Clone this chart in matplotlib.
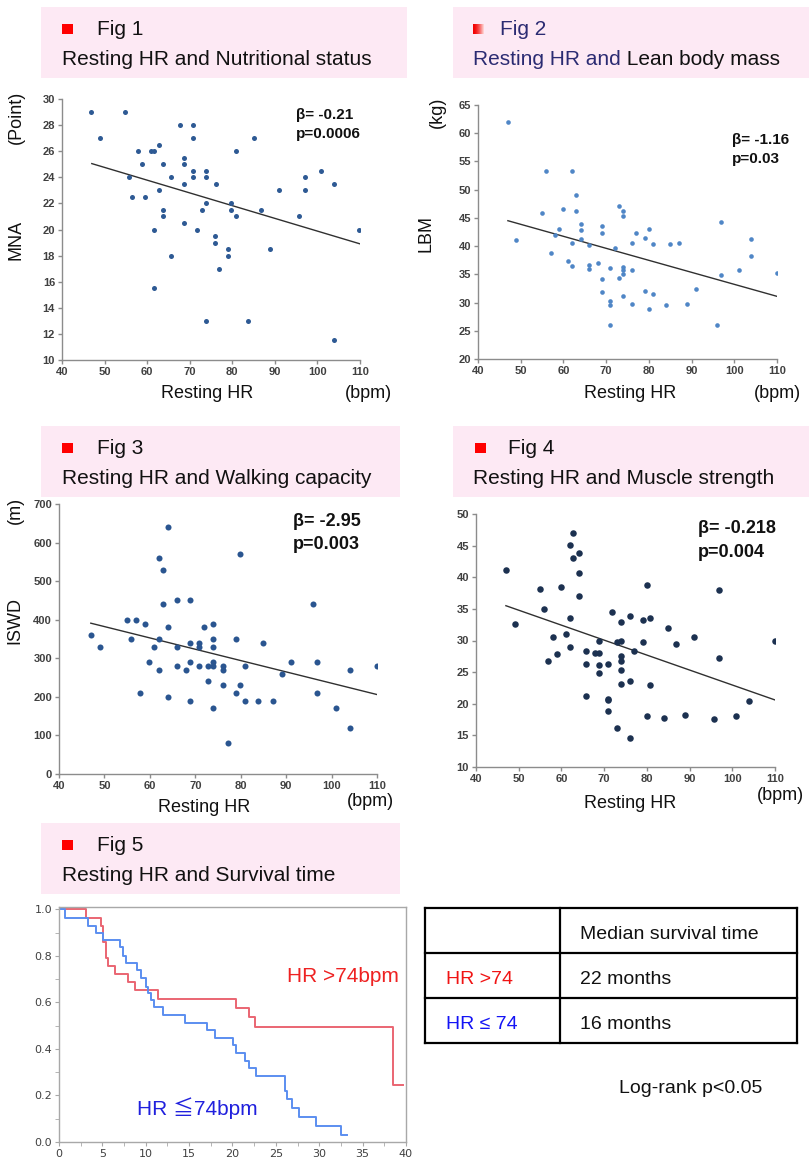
import numpy as np
import matplotlib.pyplot as plt
from matplotlib.patches import Rectangle

plt.rcParams['font.family'] = ['Liberation Sans', 'DejaVu Sans']

W, H = 809, 1165

# ---- Fig 1: resting HR vs MNA
hr1 = [46.7, 54.9, 48.9, 67.8, 70.8, 70.8, 85.1, 57.9, 60.8, 61.7, 62.7, 80.8, 68.7, 68.7,
       58.7, 63.8, 55.8, 65.6, 70.8, 70.8, 73.8, 73.8, 76.1, 68.7, 62.7, 97.0, 100.9, 91.0,
       97.0, 103.9, 56.5, 59.6, 73.8, 79.8, 79.8, 80.8, 72.8, 63.8, 63.8, 86.7, 95.7, 61.7,
       68.7, 71.7, 109.8, 75.9, 75.9, 79.0, 79.0, 65.6, 88.8, 76.8, 61.7, 73.8, 83.7, 103.9]
mna = [29.0, 29.0, 27.0, 28.0, 28.0, 27.0, 27.0, 26.0, 26.0, 26.0, 26.5, 26.0, 25.5, 25.0,
       25.0, 25.0, 24.0, 24.0, 24.0, 24.5, 24.5, 24.0, 23.5, 23.5, 23.0, 24.0, 24.5, 23.0,
       23.0, 23.5, 22.5, 22.5, 22.0, 22.0, 21.5, 21.0, 21.5, 21.5, 21.0, 21.5, 21.0, 20.0,
       20.5, 20.0, 20.0, 19.5, 19.0, 18.5, 18.0, 18.0, 18.5, 17.0, 15.5, 13.0, 13.0, 11.5]
fit1_x = [47, 110]
fit1_y = [25.05, 18.9]

# ---- Fig 2: resting HR vs lean body mass
hr2 = [47, 49, 55, 56, 57, 58, 59, 60, 61, 62, 62, 62, 63, 63, 64, 64, 64, 66, 66, 66,
       68, 69, 69, 69, 69, 71, 71, 71, 71, 72, 73, 73, 74, 74, 74, 74, 74, 74, 76, 76,
       76, 77, 79, 79, 80, 80, 81, 81, 84, 85, 87, 89, 91, 96, 97, 97, 101, 104, 104, 110]
lbm = [62.0, 41.0, 45.8, 53.3, 38.7, 42.0, 43.0, 46.5, 37.3, 53.3, 40.5, 36.5, 49.0, 46.2,
       44.0, 42.8, 41.2, 40.2, 36.7, 36.0, 37.0, 43.5, 42.3, 34.2, 31.8, 36.2, 30.2, 29.5,
       26.0, 39.7, 47.1, 34.4, 46.3, 45.3, 36.3, 35.8, 35.0, 31.1, 40.5, 35.8, 29.7, 42.3,
       41.5, 32.0, 43.0, 28.8, 40.3, 31.5, 29.5, 40.3, 40.5, 29.7, 32.4, 26.1, 44.2, 34.9,
       35.8, 41.2, 38.3, 35.3]
fit2_x = [47, 110]
fit2_y = [44.5, 31.1]

# ---- Fig 3: resting HR vs ISWD
hr3 = [47.0, 49.0, 54.9, 55.8, 56.9, 57.8, 58.9, 59.8, 60.9, 62.1, 62.1, 62.1, 62.9, 62.9,
       64.0, 64.0, 64.0, 66.0, 66.0, 66.0, 68.0, 68.9, 68.9, 68.9, 68.9, 70.8, 70.8, 70.8,
       72.0, 72.8, 72.8, 74.0, 74.0, 74.0, 74.0, 74.0, 74.0, 76.0, 76.0, 76.0, 77.1, 79.0,
       79.0, 79.9, 79.9, 81.0, 81.0, 83.8, 85.0, 87.0, 89.0, 91.0, 96.0, 96.9, 96.9, 101.0,
       104.0, 104.0, 110.0]
iswd = [360, 330, 400, 350, 400, 210, 390, 290, 330, 560, 350, 270, 530, 440,
        640, 380, 200, 450, 330, 280, 270, 450, 340, 290, 190, 340, 330, 280,
        380, 280, 240, 390, 350, 330, 290, 280, 170, 280, 270, 230, 80, 350,
        210, 570, 230, 280, 190, 190, 340, 190, 260, 290, 440, 290, 210, 170,
        270, 120, 280]
fit3_x = [47, 110]
fit3_y = [391, 206]

# ---- Fig 4: resting HR vs grip strength
hr4 = [47.0, 49.1, 55.0, 55.9, 56.8, 58.0, 58.9, 59.8, 61.0, 61.9, 61.9, 61.9, 62.8, 62.8,
       64.0, 64.0, 64.0, 65.8, 65.8, 65.8, 67.9, 68.9, 68.9, 68.9, 68.9, 70.9, 70.9, 70.9,
       70.9, 71.8, 73.0, 73.0, 73.9, 73.9, 73.9, 73.9, 73.9, 73.9, 76.0, 76.0, 76.0, 76.9,
       79.0, 79.0, 80.0, 80.0, 80.8, 80.8, 83.9, 85.0, 86.8, 88.9, 91.0, 95.8, 97.0, 97.0,
       100.9, 104.0, 110.0]
grip = [41.1, 32.6, 38.2, 35.0, 26.7, 30.6, 27.9, 38.4, 31.0, 45.1, 33.6, 29.0, 47.0, 43.1,
        43.9, 40.6, 37.0, 28.3, 26.3, 21.2, 28.1, 30.0, 28.1, 26.1, 24.9, 26.3, 20.8, 20.6,
        18.8, 34.5, 16.2, 29.8, 30.0, 33.0, 27.5, 26.7, 25.3, 23.2, 33.8, 23.6, 14.6, 28.3,
        33.2, 29.8, 38.8, 18.0, 33.6, 23.0, 17.8, 32.0, 29.5, 18.3, 30.5, 17.6, 38.0, 27.3,
        18.0, 20.4, 30.0]
fit4_x = [47, 110]
fit4_y = [35.5, 20.6]

# ---- Fig 5: Kaplan-Meier curves (months, survival)
red_t = [0, 3.08, 4.88, 5.08, 5.38, 5.65, 6.42, 7.96, 8.73, 11.42, 20.38, 21.92, 22.58, 38.46, 39.7]
red_s = [1.0, 0.964, 0.93, 0.86, 0.79, 0.755, 0.72, 0.689, 0.653, 0.616, 0.576, 0.536, 0.493, 0.243, 0.243]
blue_t = [0, 0.69, 3.35, 4.23, 5.08, 7.08, 7.38, 7.77, 9.04, 9.5, 10.08, 10.27, 10.65, 10.92,
          12.0, 14.5, 17.08, 17.96, 20.08, 20.38, 21.42, 21.92, 22.69, 26.04, 26.31, 26.88,
          27.65, 29.62, 32.46, 33.23]
blue_s = [1.0, 0.964, 0.93, 0.90, 0.867, 0.836, 0.80, 0.77, 0.739, 0.707, 0.667, 0.639, 0.61,
          0.58, 0.546, 0.513, 0.481, 0.449, 0.417, 0.381, 0.35, 0.317, 0.284, 0.22, 0.184,
          0.146, 0.106, 0.067, 0.029, 0.029]

table_labels = ['', 'HR >74', 'HR \u2264 74']
table_values = ['Median survival time', '22 months', '16 months']
table_colors = ['black', '#f01414', '#1414f5']

pink = '#fde9f4'
axis_grey = '#8c8c8c'
tick_grey = '#404040'

fig = plt.figure(figsize=(W / 100, H / 100), dpi=100)

# background layer in pixel coordinates for headers, labels and the table
bg = fig.add_axes([0, 0, 1, 1])
bg.axis('off')

LINE1 = 28   # baseline offsets inside the pink header boxes
LINE2 = 58


def add_ax(x0, y0, x1, y1):
    return fig.add_axes([x0 / W, 1 - y1 / H, (x1 - x0) / W, (y1 - y0) / H])


def header(x0, x1, top, num, line2, sq_x, fig_x, line_x):
    bg.add_patch(Rectangle((x0, top), x1 - x0, 71, color=pink, lw=0))
    bg.add_patch(Rectangle((sq_x, top + LINE1 - 11), 11, 10, color='#ff0000', lw=0))
    bg.text(fig_x, top + LINE1, 'Fig %d' % num, fontsize=15, va='baseline', color='#111111')
    bg.text(line_x, top + LINE2, line2, fontsize=15, va='baseline', color='#111111')


header(41, 407, 7, 1, 'Resting HR and Nutritional status', 62, 97, 62)
header(41, 400, 426, 3, 'Resting HR and Walking capacity', 62, 97, 62)
header(453, 809, 426, 4, 'Resting HR and Muscle strength', 475, 508, 473)
header(41, 400, 823, 5, 'Resting HR and Survival time', 62, 97, 62)

# Fig 2 header: gradient square, two colours of text
bg.add_patch(Rectangle((453, 7), 356, 71, color=pink, lw=0))
grad = np.zeros((1, 20, 3))
g = np.linspace(0, 1, 20) ** 1.6
grad[0, :, 0] = 1.0 - 0.05 * (1 - g)
grad[0, :, 1] = 0.85 * g
grad[0, :, 2] = 0.85 * g
bg.imshow(grad, extent=(473, 484, 7 + LINE1 - 1, 7 + LINE1 - 11), aspect='auto',
          interpolation='bilinear', zorder=3)
navy = '#2b2b72'
bg.text(500, 7 + LINE1, 'Fig 2', fontsize=15, va='baseline', color=navy)
t2 = bg.text(473, 7 + LINE2, 'Resting HR and', fontsize=15, va='baseline', color=navy)
bg.annotate(' Lean body mass', xy=(1, 0), xycoords=t2, va='bottom', ha='left',
            fontsize=15, color='#111111')


def scatter_panel(box, x, y, fx, fy, ylim, ystep, color, size):
    ax = add_ax(*box)
    ax.scatter(x, y, s=size, color=color, lw=0, zorder=3)
    ax.plot(fx, fy, color='#303030', lw=1.0, zorder=2)
    ax.set_xlim(40, 110)
    ax.set_ylim(*ylim)
    ax.set_xticks(np.arange(40, 111, 10))
    ax.set_yticks(np.arange(ylim[0], ylim[1] + 0.1, ystep))
    for s in ['top', 'right']:
        ax.spines[s].set_visible(False)
    for s in ['left', 'bottom']:
        ax.spines[s].set_color(axis_grey)
        ax.spines[s].set_linewidth(1.0)
    ax.tick_params(direction='out', length=3, width=1, color=axis_grey,
                   labelcolor=tick_grey, labelsize=8, pad=2)
    for lab in ax.get_xticklabels() + ax.get_yticklabels():
        lab.set_fontweight('bold')
    ax.patch.set_alpha(0)
    return ax


scatter_panel((62, 99, 360, 360), hr1, mna, fit1_x, fit1_y, (10, 30), 2, '#2e5a94', 13)
scatter_panel((478, 105, 777, 359), hr2, lbm, fit2_x, fit2_y, (20, 65), 5, '#4f86c6', 11)
scatter_panel((59, 504, 377, 774), hr3, iswd, fit3_x, fit3_y, (0, 700), 100, '#2a5590', 19)
scatter_panel((476, 514, 775, 767), hr4, grip, fit4_x, fit4_y, (10, 50), 5, '#1c3150', 22)

# axis labels
lab = dict(fontsize=13, ha='center', va='center', color='#111111')
bg.text(207, 394, 'Resting HR', **lab)
bg.text(368, 393, '(bpm)', **lab)
bg.text(16, 240, 'MNA', rotation=90, **lab)
bg.text(16, 117, '(Point)', rotation=90, **lab)
bg.text(630, 394, 'Resting HR', **lab)
bg.text(777, 393, '(bpm)', **lab)
bg.text(426, 234, 'LBM', rotation=90, **lab)
bg.text(437, 112, '(kg)', rotation=90, **lab)
bg.text(204, 807, 'Resting HR', **lab)
bg.text(370, 802, '(bpm)', **lab)
bg.text(15, 621, 'ISWD', rotation=90, **lab)
bg.text(15, 510, '(m)', rotation=90, **lab)
bg.text(630, 803, 'Resting HR', **lab)
bg.text(780, 796, '(bpm)', **lab)

# beta / p annotations
stat = dict(fontweight='bold', va='baseline', color='#111111')
bg.text(296, 119, '\u03b2= -0.21', fontsize=11, **stat)
bg.text(296, 138, 'p=0.0006', fontsize=11, **stat)
bg.text(732, 144, '\u03b2= -1.16', fontsize=11, **stat)
bg.text(732, 163, 'p=0.03', fontsize=11, **stat)
bg.text(293, 526, '\u03b2= -2.95', fontsize=13, **stat)
bg.text(293, 549, 'p=0.003', fontsize=13, **stat)
bg.text(698, 533, '\u03b2= -0.218', fontsize=13, **stat)
bg.text(698, 557, 'p=0.004', fontsize=13, **stat)

# ---- Kaplan-Meier panel
ax5 = add_ax(59, 907, 406, 1142)
ax5.step(red_t, red_s, where='post', color='#ea6572', lw=1.4)
ax5.step(blue_t, blue_s, where='post', color='#5b8ef0', lw=1.4)
ax5.set_xlim(0, 40)
ax5.set_ylim(0, 1.01)
ax5.set_xticks(np.arange(0, 41, 5))
ax5.set_xticks(np.arange(0, 41, 2.5), minor=True)
ax5.set_yticks(np.arange(0, 1.01, 0.2))
ax5.set_yticks(np.arange(0, 1.01, 0.1), minor=True)
ax5.set_yticklabels(['%.1f' % v for v in np.arange(0, 1.01, 0.2)])
for s in ax5.spines.values():
    s.set_color('#a8a8a8')
    s.set_linewidth(1.0)
ax5.tick_params(which='both', direction='out', length=3, color='#a8a8a8')
ax5.tick_params(labelsize=8, labelcolor=tick_grey, pad=2)
for t in ax5.get_xticklabels() + ax5.get_yticklabels():
    t.set_fontfamily('DejaVu Sans')
ax5.patch.set_alpha(0)

bg.text(287, 982, 'HR >74bpm', fontsize=15, color='#ee2222', va='baseline')
bg.text(137, 1115, 'HR \u226674bpm', fontsize=15, color='#2020dd', va='baseline',
        family=['Liberation Sans', 'Noto Sans CJK JP', 'DejaVu Sans'])

# ---- median survival table
tx0, tx1, tcol = 425, 797, 560
row_edges = [908, 953, 998, 1043]
for yy in row_edges:
    bg.plot([tx0, tx1], [yy, yy], color='black', lw=1.6, solid_capstyle='projecting')
for xx in [tx0, tcol, tx1]:
    bg.plot([xx, xx], [row_edges[0], row_edges[-1]], color='black', lw=1.6,
            solid_capstyle='projecting')
for i in range(3):
    base = row_edges[i] + 31
    bg.text(446, base, table_labels[i], fontsize=14, color=table_colors[i], va='baseline')
    bg.text(580, base, table_values[i], fontsize=14, color='#111111', va='baseline')
bg.text(619, 1093, 'Log-rank p<0.05', fontsize=14, color='#111111', va='baseline')

bg.set_xlim(0, W)
bg.set_ylim(H, 0)

fig.savefig('out.png', dpi=100)
